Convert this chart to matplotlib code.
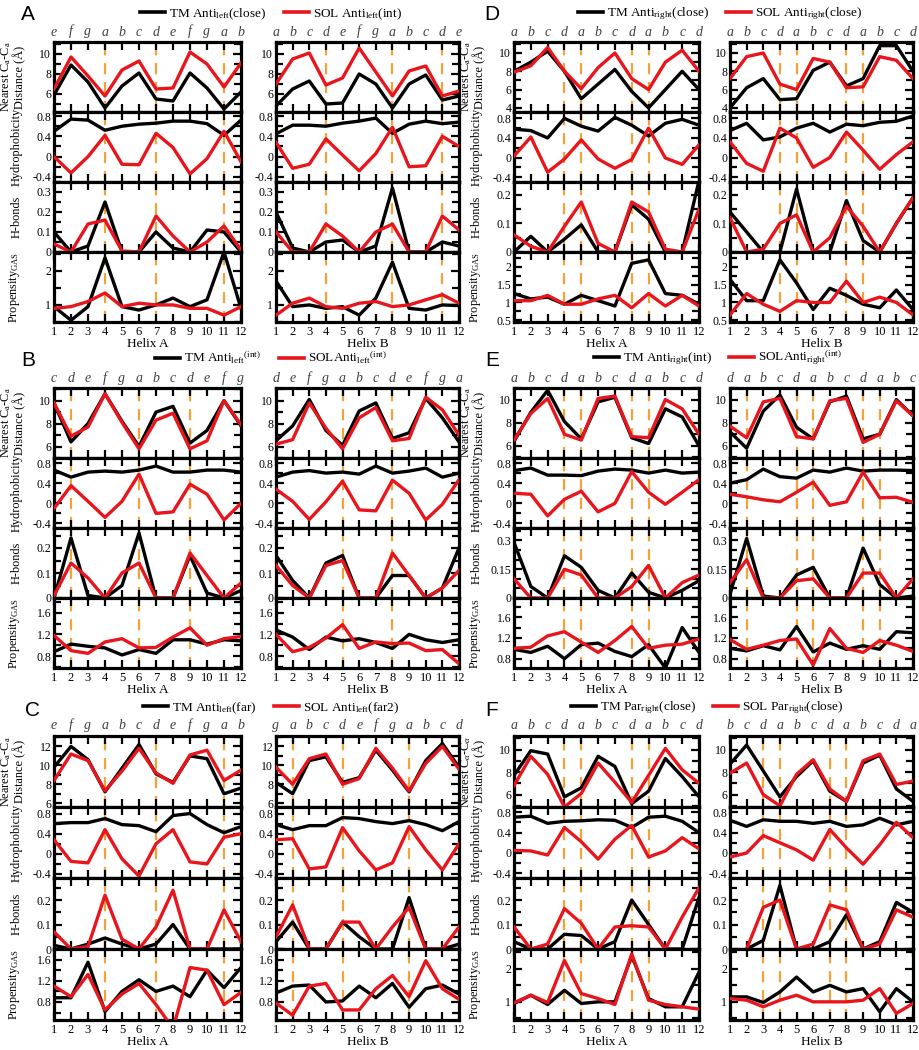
import numpy as np
import matplotlib
matplotlib.use("Agg")
import matplotlib.pyplot as plt
from matplotlib.ticker import MultipleLocator, FixedLocator, FuncFormatter
from matplotlib.lines import Line2D

plt.rcParams['font.family'] = ['Liberation Serif', 'DejaVu Serif']
plt.rcParams['mathtext.fontset'] = 'custom'
plt.rcParams['mathtext.rm'] = 'Liberation Serif'
plt.rcParams['mathtext.it'] = 'Liberation Serif:italic'
plt.rcParams['mathtext.sf'] = 'Open Sans'
plt.rcParams['axes.unicode_minus'] = False

residues = list(range(1, 13))

# ================= Panel A =================
A1_heptad = "e f g a b c d e f g a b".split()
A1_dashes = [4, 7, 11]
A1_dist_tm = [5.9, 8.9, 7.2, 4.6, 6.8, 8.1, 5.5, 5.3, 8.1, 6.6, 4.5, 6.2]
A1_dist_sol = [6.5, 9.7, 7.8, 5.8, 8.4, 9.3, 6.5, 6.6, 10.2, 9.0, 6.7, 9.1]
A1_hyd_tm = [0.50, 0.74, 0.72, 0.52, 0.60, 0.64, 0.66, 0.70, 0.70, 0.65, 0.42, 0.72]
A1_hyd_sol = [0.0, -0.32, 0.0, 0.42, -0.15, -0.16, 0.46, 0.18, -0.34, -0.04, 0.50, -0.10]
A1_hb_tm = [0.10, 0.0, 0.03, 0.25, 0.0, 0.0, 0.10, 0.02, 0.0, 0.11, 0.10, 0.0]
A1_hb_sol = [0.04, 0.0, 0.14, 0.16, 0.005, 0.0, 0.18, 0.08, 0.0, 0.05, 0.13, 0.01]
A1_prop_tm = [0.95, 0.55, 0.95, 2.38, 0.95, 0.85, 1.0, 1.2, 0.95, 1.15, 2.55, 0.9]
A1_prop_sol = [0.9, 0.95, 1.1, 1.35, 0.95, 1.05, 1.0, 1.0, 0.9, 0.9, 0.7, 0.95]

A2_heptad = "a b c d e f g a b c d e".split()
A2_dashes = [4, 8, 11]
A2_dist_tm = [4.8, 6.5, 7.3, 5.0, 5.1, 8.0, 7.0, 4.6, 7.0, 7.9, 5.4, 5.8]
A2_dist_sol = [7.0, 9.5, 10.1, 6.9, 7.6, 10.6, 8.2, 5.8, 8.3, 8.8, 5.8, 6.3]
A2_hyd_tm = [0.45, 0.62, 0.62, 0.60, 0.66, 0.70, 0.76, 0.46, 0.64, 0.70, 0.65, 0.68]
A2_hyd_sol = [0.28, -0.23, -0.15, 0.35, 0.03, -0.28, 0.06, 0.58, -0.20, -0.18, 0.40, 0.20]
A2_hb_tm = [0.20, 0.02, 0.0, 0.05, 0.06, 0.0, 0.03, 0.32, 0.0, 0.0, 0.05, 0.03]
A2_hb_sol = [0.10, 0.0, 0.0, 0.14, 0.08, 0.0, 0.10, 0.14, 0.0, 0.0, 0.18, 0.11]
A2_prop_tm = [1.70, 0.95, 1.00, 0.90, 0.95, 0.70, 1.20, 2.25, 0.90, 0.85, 1.00, 0.98]
A2_prop_sol = [0.70, 1.05, 1.20, 0.95, 0.90, 1.05, 1.10, 0.95, 1.00, 1.15, 1.30, 1.05]

# ================= Panel D =================
D1_heptad = "a b c d a b c d a b c d".split()
D1_dashes = [4, 5, 8, 9]
D1_dist_tm = [8.0, 9.0, 10.2, 8.0, 5.0, 6.6, 8.2, 5.8, 4.0, 6.0, 8.0, 6.0]
D1_dist_sol = [7.9, 8.6, 10.6, 8.0, 6.1, 8.4, 10.0, 7.2, 6.0, 9.0, 10.3, 8.0]
D1_hyd_tm = [0.58, 0.55, 0.40, 0.80, 0.64, 0.54, 0.82, 0.66, 0.44, 0.70, 0.78, 0.66]
D1_hyd_sol = [0.03, 0.42, -0.30, -0.03, 0.36, -0.03, -0.22, -0.04, 0.60, -0.01, -0.14, 0.26]
D1_hb_tm = [0.0, 0.055, 0.0, 0.045, 0.095, 0.0, 0.0, 0.165, 0.115, 0.0, 0.0, 0.25]
D1_hb_sol = [0.06, 0.02, 0.0, 0.09, 0.175, 0.03, 0.0, 0.175, 0.14, 0.01, 0.0, 0.15]
D1_prop_tm = [1.25, 1.10, 1.15, 0.95, 1.20, 1.05, 0.90, 2.10, 2.20, 1.25, 1.20, 0.95]
D1_prop_sol = [1.05, 1.05, 1.20, 0.95, 0.95, 1.10, 1.20, 0.85, 1.25, 0.90, 1.20, 0.90]

D2_heptad = "a b c d a b c d a b c d".split()
D2_dashes = [4, 5, 8, 9]
D2_dist_tm = [4.0, 6.2, 7.2, 4.9, 5.0, 8.1, 9.0, 6.4, 7.2, 10.8, 10.8, 8.0]
D2_dist_sol = [7.2, 9.6, 10.0, 6.6, 6.0, 9.4, 9.0, 6.2, 6.3, 9.6, 9.2, 7.2]
D2_hyd_tm = [0.55, 0.70, 0.36, 0.42, 0.60, 0.70, 0.52, 0.68, 0.65, 0.72, 0.74, 0.85]
D2_hyd_sol = [0.32, -0.12, -0.28, 0.60, 0.40, -0.20, 0.0, 0.52, 0.15, -0.24, 0.06, 0.32]
D2_hb_tm = [0.14, 0.07, 0.0, 0.0, 0.22, 0.0, 0.0, 0.18, 0.04, 0.0, 0.10, 0.19]
D2_hb_sol = [0.12, 0.0, 0.01, 0.10, 0.13, 0.0, 0.05, 0.16, 0.09, 0.0, 0.10, 0.19]
D2_prop_tm = [1.65, 1.05, 1.05, 2.20, 1.55, 0.80, 1.40, 1.20, 0.95, 0.85, 1.35, 0.80]
D2_prop_sol = [0.65, 1.25, 0.95, 0.75, 1.05, 1.00, 1.00, 1.60, 1.00, 1.15, 1.00, 0.65]

# ================= Panel B =================
B1_heptad = "c d e f g a b c d e f g".split()
B1_dashes = [2, 6, 9]
B1_dist_tm = [9.8, 6.4, 8.0, 10.6, 8.2, 6.0, 9.0, 9.5, 6.3, 7.4, 10.0, 7.8]
B1_dist_sol = [9.8, 6.9, 7.7, 10.6, 8.1, 5.8, 8.3, 8.9, 5.8, 6.5, 10.0, 7.9]
B1_hyd_tm = [0.66, 0.52, 0.62, 0.64, 0.62, 0.66, 0.74, 0.62, 0.62, 0.66, 0.66, 0.62]
B1_hyd_sol = [-0.10, 0.35, 0.04, -0.28, 0.04, 0.58, -0.20, -0.17, 0.38, 0.18, -0.33, 0.0]
B1_hb_tm = [0.0, 0.24, 0.01, 0.0, 0.05, 0.26, 0.0, 0.0, 0.17, 0.02, 0.0, 0.03]
B1_hb_sol = [0.01, 0.14, 0.08, 0.0, 0.10, 0.14, 0.0, 0.0, 0.18, 0.09, 0.0, 0.06]
B1_prop_tm = [0.88, 1.02, 0.98, 0.95, 0.82, 0.92, 0.85, 1.10, 1.10, 1.02, 1.10, 1.08]
B1_prop_sol = [1.18, 0.90, 0.85, 1.06, 1.12, 0.95, 0.96, 1.15, 1.32, 1.00, 1.12, 1.16]

B2_heptad = "d e f g a b c d e f g a".split()
B2_dashes = [5, 8]
B2_dist_tm = [6.5, 7.8, 10.1, 7.4, 6.1, 9.1, 9.8, 6.7, 7.2, 10.2, 8.5, 6.4]
B2_dist_sol = [6.2, 6.6, 9.8, 7.6, 5.8, 8.5, 9.4, 6.5, 6.7, 10.3, 9.2, 7.0]
B2_hyd_tm = [0.52, 0.62, 0.65, 0.60, 0.62, 0.58, 0.74, 0.60, 0.64, 0.70, 0.52, 0.60]
B2_hyd_sol = [0.28, 0.04, -0.32, 0.03, 0.44, -0.13, -0.15, 0.46, 0.20, -0.33, -0.02, 0.47]
B2_hb_tm = [0.17, 0.07, 0.0, 0.14, 0.17, 0.0, 0.0, 0.09, 0.09, 0.0, 0.04, 0.20]
B2_hb_sol = [0.13, 0.05, 0.0, 0.13, 0.15, 0.0, 0.0, 0.18, 0.09, 0.0, 0.04, 0.11]
B2_prop_tm = [1.28, 1.15, 0.92, 1.15, 1.08, 1.12, 1.05, 0.94, 1.20, 1.10, 1.05, 1.10]
B2_prop_sol = [1.20, 0.88, 0.96, 1.13, 1.38, 0.94, 1.06, 1.03, 1.04, 0.90, 0.92, 0.66]

# ================= Panel E =================
E1_heptad = "a b c d a b c d a b c d".split()
E1_dashes = [4, 5, 8, 9]
E1_dist_tm = [6.4, 8.9, 10.8, 8.1, 6.6, 9.8, 10.2, 6.7, 6.2, 9.2, 8.5, 6.0]
E1_dist_sol = [6.5, 8.8, 10.1, 7.0, 6.5, 10.1, 10.3, 6.8, 6.7, 10.0, 9.2, 7.0]
E1_hyd_tm = [0.65, 0.70, 0.56, 0.56, 0.55, 0.64, 0.68, 0.66, 0.60, 0.66, 0.60, 0.62]
E1_hyd_sol = [0.20, 0.18, -0.25, 0.08, 0.24, -0.17, 0.0, 0.63, 0.22, -0.02, 0.22, 0.47]
E1_hb_tm = [0.29, 0.06, 0.0, 0.22, 0.16, 0.04, 0.0, 0.13, 0.03, 0.0, 0.04, 0.09]
E1_hb_sol = [0.10, 0.0, 0.0, 0.15, 0.12, 0.0, 0.0, 0.06, 0.17, 0.0, 0.08, 0.12]
E1_prop_tm = [0.98, 0.92, 1.04, 0.80, 1.07, 1.10, 0.94, 0.84, 1.07, 0.62, 1.40, 0.92]
E1_prop_sol = [1.00, 1.02, 1.24, 1.32, 1.12, 0.92, 1.15, 1.42, 1.00, 1.06, 1.08, 1.18]

E2_heptad = "d a b c d a b c d a b c".split()
E2_dashes = [2, 5, 6, 9, 10]
E2_dist_tm = [7.2, 5.8, 9.0, 10.4, 7.6, 6.6, 9.8, 10.3, 6.6, 7.0, 10.0, 8.6]
E2_dist_sol = [7.7, 6.7, 9.8, 10.1, 6.8, 6.6, 9.9, 10.1, 6.3, 7.0, 9.9, 8.6]
E2_hyd_tm = [0.40, 0.47, 0.68, 0.53, 0.50, 0.66, 0.62, 0.70, 0.64, 0.66, 0.66, 0.65]
E2_hyd_sol = [0.18, 0.13, 0.07, 0.03, 0.22, 0.42, -0.04, 0.03, 0.62, 0.11, 0.12, 0.02]
E2_hb_tm = [0.02, 0.31, 0.01, 0.0, 0.12, 0.16, 0.0, 0.0, 0.26, 0.07, 0.0, 0.01]
E2_hb_sol = [0.08, 0.20, 0.0, 0.0, 0.09, 0.10, 0.0, 0.0, 0.13, 0.13, 0.0, 0.10]
E2_prop_tm = [1.00, 0.95, 1.05, 0.97, 1.42, 0.93, 1.10, 0.98, 1.05, 0.98, 1.32, 1.30]
E2_prop_sol = [1.17, 0.98, 1.06, 1.15, 1.18, 0.68, 1.38, 1.00, 0.92, 1.15, 1.06, 0.94]

# ================= Panel C =================
C1_heptad = "e f g a b c d e f g a b".split()
C1_dashes = [4, 7, 11]
C1_dist_tm = [9.8, 12.0, 10.6, 7.2, 9.7, 12.2, 9.1, 8.2, 11.0, 10.7, 7.0, 7.6]
C1_dist_sol = [8.4, 11.2, 10.5, 7.3, 9.4, 11.8, 9.2, 8.1, 11.1, 11.6, 8.4, 9.5]
C1_hyd_tm = [0.60, 0.62, 0.62, 0.70, 0.58, 0.56, 0.44, 0.76, 0.80, 0.58, 0.42, 0.54]
C1_hyd_sol = [0.28, -0.15, -0.18, 0.48, -0.10, -0.44, 0.20, 0.48, -0.16, -0.20, 0.33, 0.40]
C1_hb_tm = [0.015, 0.0, 0.02, 0.045, 0.02, 0.0, 0.02, 0.10, 0.0, 0.0, 0.0, 0.0]
C1_hb_sol = [0.07, 0.0, 0.01, 0.22, 0.04, 0.0, 0.09, 0.24, 0.0, 0.0, 0.16, 0.03]
C1_prop_tm = [0.88, 0.88, 1.55, 0.62, 1.00, 1.22, 1.00, 1.10, 0.90, 1.40, 1.07, 1.45]
C1_prop_sol = [1.10, 0.90, 1.32, 0.65, 0.95, 1.15, 0.75, 0.30, 1.45, 1.40, 0.75, 0.98]

C2_heptad = "g a b c d e f g a b c d".split()
C2_dashes = [2, 5, 9]
C2_dist_tm = [8.2, 7.0, 10.5, 10.9, 8.2, 8.7, 11.6, 9.5, 7.2, 10.5, 12.3, 9.8]
C2_dist_sol = [9.8, 8.0, 10.7, 11.2, 8.0, 8.6, 11.8, 9.7, 7.3, 10.2, 12.0, 9.6]
C2_hyd_tm = [0.58, 0.48, 0.56, 0.56, 0.72, 0.70, 0.64, 0.60, 0.66, 0.58, 0.46, 0.64]
C2_hyd_sol = [0.28, 0.30, -0.30, -0.26, 0.52, 0.06, -0.32, -0.18, 0.54, 0.08, -0.32, 0.20]
C2_hb_tm = [0.03, 0.11, 0.0, 0.0, 0.11, 0.05, 0.0, 0.0, 0.21, 0.0, 0.0, 0.02]
C2_hb_sol = [0.05, 0.18, 0.0, 0.0, 0.11, 0.11, 0.0, 0.09, 0.17, 0.0, 0.0, 0.09]
C2_prop_tm = [0.97, 1.10, 1.12, 0.80, 0.82, 1.10, 0.88, 1.15, 0.70, 1.05, 1.12, 0.95]
C2_prop_sol = [0.78, 0.55, 1.10, 1.15, 0.65, 0.65, 1.05, 1.30, 0.90, 1.58, 1.05, 0.85]

# ================= Panel F =================
F1_heptad = "a b c d a b c d a b c d".split()
F1_dashes = [4, 5, 8, 9]
F1_dist_tm = [7.7, 9.9, 9.6, 5.8, 6.6, 9.4, 8.5, 5.2, 6.3, 9.2, 7.6, 5.8]
F1_dist_sol = [6.8, 9.4, 7.8, 4.9, 6.1, 8.8, 7.1, 5.3, 7.7, 10.1, 8.2, 7.0]
F1_hyd_tm = [0.70, 0.72, 0.58, 0.62, 0.63, 0.65, 0.64, 0.50, 0.70, 0.72, 0.62, 0.40]
F1_hyd_sol = [0.05, 0.04, -0.04, 0.50, 0.22, -0.12, 0.27, 0.54, -0.08, 0.04, 0.30, 0.08]
F1_hb_tm = [0.03, 0.0, 0.0, 0.06, 0.055, 0.0, 0.03, 0.20, 0.10, 0.0, 0.0, 0.21]
F1_hb_sol = [0.09, 0.0, 0.02, 0.165, 0.105, 0.0, 0.09, 0.095, 0.09, 0.0, 0.13, 0.25]
F1_prop_tm = [0.95, 1.20, 0.92, 1.35, 0.95, 1.00, 1.00, 2.40, 1.10, 0.85, 0.85, 1.90]
F1_prop_sol = [0.97, 1.20, 0.98, 2.25, 1.25, 1.10, 0.92, 2.45, 1.05, 0.92, 0.85, 0.78]

F2_heptad = "b c d a b c d a b c d a".split()
F2_dashes = [3, 4, 7, 8]
F2_dist_tm = [8.7, 10.4, 8.1, 5.8, 7.6, 9.0, 6.3, 5.4, 8.8, 9.5, 6.5, 5.4]
F2_dist_sol = [7.9, 8.8, 6.0, 5.0, 7.8, 9.1, 6.5, 5.4, 9.0, 9.6, 6.9, 7.2]
F2_hyd_tm = [0.64, 0.52, 0.65, 0.62, 0.62, 0.58, 0.62, 0.52, 0.55, 0.68, 0.55, 0.62]
F2_hyd_sol = [-0.08, 0.0, 0.34, 0.20, 0.06, -0.14, 0.46, 0.10, -0.22, 0.16, 0.60, 0.30]
F2_hb_tm = [None, 0.0, 0.035, 0.26, 0.0, 0.0, 0.03, 0.14, 0.0, 0.03, 0.19, 0.15]
F2_hb_sol = [None, 0.0, 0.17, 0.20, 0.0, 0.02, 0.18, 0.16, 0.0, 0.02, 0.16, 0.13]
F2_prop_tm = [1.15, 1.15, 0.98, 1.30, 1.75, 1.30, 1.50, 1.30, 1.40, 0.70, 1.40, 1.00]
F2_prop_sol = [1.10, 1.05, 0.85, 1.05, 1.20, 1.00, 1.00, 1.00, 1.05, 1.40, 0.65, 0.95]

# legend labels
A_labels = [r"TM Anti$_{\rm left}$(close)", r"SOL Anti$_{\rm left}$(int)"]
B_labels = [r"TM Anti$_{\rm left}$$^{\rm (int)}$", r"SOLAnti$_{\rm left}$$^{\rm (int)}$"]
C_labels = [r"TM Anti$_{\rm left}$(far)", r"SOL Anti$_{\rm left}$(far2)"]
D_labels = [r"TM Anti$_{\rm right}$(close)", r"SOL Anti$_{\rm right}$(close)"]
E_labels = [r"TM Anti$_{\rm right}$(int)", r"SOLAnti$_{\rm right}$$^{\rm (int)}$"]
F_labels = [r"TM Par$_{\rm right}$(close)", r"SOL Par$_{\rm right}$(close)"]

# ---------------------------------------------------------------------------
W, H = 920, 1050
RED = '#e8161c'
ORANGE = '#f2a23a'

fig = plt.figure(figsize=(W / 100, H / 100), dpi=100)

HYD = ((-0.49, 0.9), [-0.4, 0, 0.4, 0.8], 0.2)
YCFG = {
    'A': [((4.2, 11.2), [6, 8, 10], 1), ((-0.5, 0.88), [-0.4, 0, 0.4, 0.8], 0.2),
          ((0, 0.35), [0, 0.1, 0.2, 0.3], 0.05), ((0.5, 2.55), [1, 2], 0.5)],
    'D': [((3.55, 11.2), [4, 6, 8, 10], 1), ((-0.5, 0.93), [-0.4, 0, 0.4, 0.8], 0.2),
          ((0, 0.245), [0, 0.1, 0.2], 0.05), ((0.45, 2.42), [0.5, 1, 1.5, 2], 0.25)],
    'B': [((5.0, 11.1), [6, 8, 10], 1), HYD,
          ((0, 0.28), [0, 0.1, 0.2], 0.05), ((0.58, 1.87), [0.8, 1.2, 1.6], 0.2)],
    'E': [((4.95, 11.0), [6, 8, 10], 1), HYD,
          ((0, 0.365), [0, 0.15, 0.3], 0.05), ((0.62, 1.97), [0.8, 1.2, 1.6], 0.2)],
    'C': [((5.6, 13.1), [6, 8, 10, 12], 1), ((-0.48, 0.93), [-0.4, 0, 0.4, 0.8], 0.2),
          ((0, 0.29), [0, 0.1, 0.2], 0.05), ((0.46, 1.8), [0.8, 1.2, 1.6], 0.2)],
    'F': [((4.9, 11.2), [6, 8, 10], 1), HYD,
          ((0, 0.29), [0, 0.1, 0.2], 0.05), ((0.45, 2.6), [1, 2], 0.5)],
}

COLS_LEFT = [(54, 241), (276, 459)]
COLS_RIGHT = [(514, 699), (730, 913)]
BANDS = {'A': (42, 322), 'D': (42, 322), 'B': (388, 668), 'E': (388, 668),
         'C': (736, 1020), 'F': (736, 1020)}

g = globals()
fmt = FuncFormatter(lambda v, p: f"{v:g}")


def ylabels_for(panel):
    sub = r"\alpha" if panel == 'F' else r"\rm a"
    return ["Nearest C$_{%s}$-C$_{%s}$\nDistance (Å)" % (sub, sub),
            "Hydrophobicity", "H-bonds", r"Propensity$_{\rm GAS}$"]


for panel in "ABCDEF":
    cols = COLS_LEFT if panel in "ABC" else COLS_RIGHT
    top, bottom = BANDS[panel]
    hrow = (bottom - top) / 4.0
    for hi, (x0, x1) in enumerate(cols):
        key = f"{panel}{hi + 1}"
        heptad = g[key + "_heptad"]
        dashes = g[key + "_dashes"]
        for ri, metric in enumerate(["dist", "hyd", "hb", "prop"]):
            tm = np.array(g[f"{key}_{metric}_tm"], dtype=float)
            sol = np.array(g[f"{key}_{metric}_sol"], dtype=float)
            ylim, yt, ymin = YCFG[panel][ri]
            ax = fig.add_axes([x0 / W, 1 - (top + (ri + 1) * hrow) / H,
                               (x1 - x0) / W, hrow / H])
            for d in dashes:
                ax.axvline(d, color=ORANGE, lw=1.6, ls=(0, (5, 3.5)), zorder=1)
            ax.plot(residues, tm, color='black', lw=2.4, zorder=3)
            ax.plot(residues, sol, color=RED, lw=2.4, zorder=4)
            ax.set_xlim(1, 12)
            ax.set_ylim(*ylim)
            ax.set_xticks(residues)
            ax.yaxis.set_major_locator(FixedLocator(yt))
            ax.yaxis.set_minor_locator(MultipleLocator(ymin))
            ax.yaxis.set_major_formatter(fmt)
            ax.tick_params(which='both', direction='in', top=True, right=True,
                           width=1.6, colors='black')
            ax.tick_params(which='major', length=6, labelsize=8.5, pad=2)
            ax.tick_params(which='minor', length=5)
            ax.tick_params(axis='x', labelsize=9, pad=3)
            for s in ax.spines.values():
                s.set_linewidth(2.3)
            if ri < 3:
                ax.tick_params(axis='x', labelbottom=False)
            else:
                ax.set_xlabel(f"Helix {'A' if hi == 0 else 'B'}", fontsize=9.5, labelpad=0)
            if ri == 0:
                for xv, let in zip(residues, heptad):
                    ax.text(xv, 1.05, let, transform=ax.get_xaxis_transform(),
                            ha='center', va='bottom', fontsize=10, style='italic',
                            color='#404040')
            if hi == 0:
                lab = ylabels_for(panel)[ri]
                ax.set_ylabel(lab, fontsize=8.8, linespacing=0.95)
                ax.yaxis.set_label_coords(-0.15 if ri == 0 else -0.17, 0.5)

# panel letters
PANEL_POS = {'A': (28, 15), 'D': (492, 15), 'B': (28, 360), 'E': (492, 360),
             'C': (33, 710), 'F': (492, 710)}
for p, (px, py) in PANEL_POS.items():
    fig.text(px / W, 1 - py / H, p, fontsize=15, family='Liberation Sans',
             ha='center', va='center')

# legends
LEG_POS = {'A': (271, 14), 'D': (720, 14), 'B': (271, 358), 'E': (718, 358),
           'C': (271, 708), 'F': (707, 708)}
for p, (px, py) in LEG_POS.items():
    handles = [Line2D([], [], color='black', lw=2.6), Line2D([], [], color=RED, lw=2.6)]
    fig.legend(handles, g[p + "_labels"], loc='center',
               bbox_to_anchor=(px / W, 1 - py / H), ncol=2, frameon=False,
               prop={'family': 'Liberation Serif', 'size': 9.5}, handlelength=1.9,
               handletextpad=0.3, columnspacing=1.3, borderpad=0, borderaxespad=0)

fig.savefig("out.png", dpi=100)
